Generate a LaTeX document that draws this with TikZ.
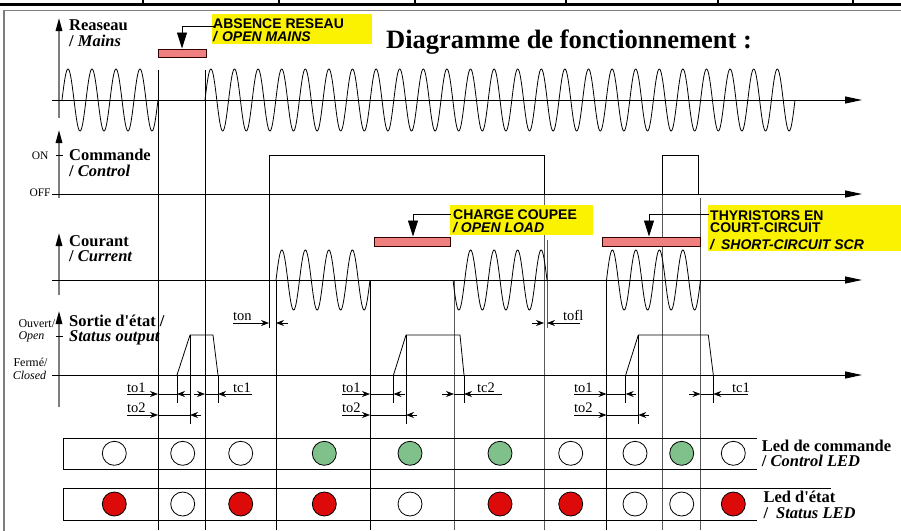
\documentclass[tikz,border=0pt]{standalone}
\usepackage{fontspec}
\setmainfont{Liberation Serif}
\newfontfamily\sansf{Liberation Sans}
\usetikzlibrary{arrows.meta}
\definecolor{hl}{RGB}{250,242,0}
\definecolor{pinkr}{RGB}{240,128,128}
\definecolor{ledg}{RGB}{128,192,138}
\definecolor{ledr}{RGB}{221,10,10}
\definecolor{axg}{RGB}{125,125,125}
\tikzset{
  haxis/.style={line width=1pt,-{Triangle[length=17pt,width=7pt]}},
  vaxis/.style={axg,line width=1.6pt,-{Triangle[length=13pt,width=6.5pt,color=black]}},
  thin/.style={line width=0.8pt},
  vline/.style={line width=0.8pt},
  gline/.style={line width=0.9pt,black!65},
  wave/.style={line width=0.8pt},
  tarr/.style={line width=0.7pt,-{Stealth[length=8pt,width=6pt]}},
  bigarr/.style={line width=0.7pt,-{Triangle[length=16pt,width=10pt]}},
  pinkbox/.style={fill=pinkr,draw=black!80!red,line width=0.8pt},
  hlbox/.style={fill=hl,draw=none},
  lbl/.style={anchor=base west,inner sep=0pt,font=\fontsize{16.5}{18}\selectfont\bfseries},
  lbli/.style={anchor=base west,inner sep=0pt,font=\fontsize{16.5}{18}\selectfont\bfseries\itshape},
  sml/.style={anchor=base west,inner sep=0pt,font=\fontsize{11.5}{12}\selectfont},
  smli/.style={anchor=base west,inner sep=0pt,font=\fontsize{12}{13}\selectfont\itshape},
  smlr/.style={anchor=base west,inner sep=0pt,font=\fontsize{12}{13}\selectfont},
  tim/.style={anchor=base west,inner sep=0pt,font=\fontsize{14.5}{15}\selectfont},
  hlt/.style={anchor=base west,inner sep=0pt,font=\sansf\fontsize{14}{14}\selectfont\bfseries},
  hlti/.style={anchor=base west,inner sep=0pt,font=\sansf\fontsize{14}{14}\selectfont\bfseries\itshape},
  led/.style={draw=black,line width=0.8pt},
}
\begin{document}
\begin{tikzpicture}[x=1pt,y=-1pt]
\useasboundingbox (0,0) rectangle (901,530);
% top strip
\draw[line width=2.5pt] (0,4.5) -- (901,4.5);
\foreach \xx in {142.7,278.7,415,566,717.7,853.3}
  \draw[line width=2pt] (\xx,0) -- (\xx,4.5);
% frame
\draw[axg,line width=1.8pt] (4,531) -- (4,10.5) -- (902,10.5);

% title
\node[anchor=base west,inner sep=0pt,font=\fontsize{26.5}{28}\selectfont\bfseries] (title) at (386,48) {Diagramme de fonctionnement :};

% ---------- vertical time lines ----------
\draw[vline] (158,70) -- (158,530);
\draw[vline] (205,70) -- (205,530);
\draw[vline] (269,194) -- (269,328);
\draw[vline] (276,280) -- (276,530);
\draw[vline] (370,280) -- (370,530);
\draw[gline] (454,280) -- (454,530);
\draw[gline] (544,194) -- (544,530);
\draw[gline] (547,240) -- (547,328);
\draw[vline] (606.5,280) -- (606.5,530);
\draw[gline] (662,194) -- (662,530);
\draw[gline] (700.5,198) -- (700.5,530);

% ---------- Mains ----------
\draw[vaxis] (59,118) -- (59,18);
\node[lbl] (mainsA) at (69,30.5) {Reaseau};
\node[lbli] (mainsB) at (69,46) {\upshape/ \itshape Mains};
\draw[haxis] (52,100) -- (862,100);
\draw[wave] plot[domain=62:158,samples=200] (\x,{100-31*sin(15*(\x-62))});
\draw[wave] plot[domain=205:795,samples=1200] (\x,{100-31*sin(15.254*(\x-205))});

% ---------- Control ----------
\draw[vaxis] (59,198) -- (59,130);
\draw[thin] (56,155) -- (63,155);
\node[sml] (on) at (31.7,159) {ON};
\node[sml] (off) at (29.3,196) {OFF};
\node[lbl] (cmdA) at (69,160.7) {Commande};
\node[lbli] (cmdB) at (69,176.7) {\upshape/ \itshape Control};
\draw[haxis] (52,194) -- (862,194);
\draw[thin] (269,194) -- (269,155) -- (544,155) -- (544,194);
\draw[thin] (662,194) -- (662,155) -- (698.3,155) -- (698.3,194);

% ---------- Current ----------
\draw[vaxis] (59,295) -- (59,233);
\node[lbl] (curA) at (69,246.7) {Courant};
\node[lbli] (curB) at (69,261.7) {\upshape/ \itshape Current};
\draw[haxis] (52,280) -- (862,280);
\draw[wave] plot[domain=276:370,samples=200] (\x,{280-30*sin(15.319*(\x-276))});
\draw[wave] plot[domain=453:547,samples=200] (\x,{280+30*sin(15.319*(\x-453))});
\draw[wave] plot[domain=606.5:700.5,samples=200] (\x,{280-30*sin(15.319*(\x-606.5))});

% ---------- annotations ----------
\fill[hlbox] (212,14) rectangle (372,44);
\draw[pinkbox] (158,49) rectangle (206,57);
\coordinate (aA) at (214,26);
\draw[bigarr] (aA) -- (182,26) -- (182,48.5);
\node[hlt] (absA) at (213,28) {ABSENCE RESEAU};
\node[hlti] (absB) at (213,41) {/\hspace{5pt}OPEN MAINS};

\fill[hlbox] (450,205) rectangle (593,235);
\draw[pinkbox] (374,237.3) rectangle (450,246);
\coordinate (aB) at (451,214);
\draw[bigarr] (aB) -- (413,214) -- (413,236.5);
\node[hlt] (olA) at (453,219) {CHARGE COUPEE};
\node[hlti] (olB) at (453,232.3) {/ OPEN LOAD};

\fill[hlbox] (708,205) rectangle (901,251);
\draw[pinkbox] (602,237.3) rectangle (700.5,246);
\coordinate (aC) at (709,214);
\draw[bigarr] (aC) -- (649,214) -- (649,236.5);
\node[hlt] (scA) at (710,220) {THYRISTORS EN};
\node[hlt] (scB) at (710,232.7) {COURT-CIRCUIT};
\node[hlti] (scC) at (710,249.3) {/\hspace{7pt}SHORT-CIRCUIT SCR};

% ---------- ton / tofl ----------
\draw[tarr] (233,323) -- (269,323);
\node[tim] (ton) at (233,320.5) {ton};
\draw[tarr] (288,323) -- (276,323);
\draw[tarr] (532,323) -- (544,323);
\draw[tarr] (580,323) -- (547,323);
\node[tim] (tofl) at (563,320.5) {tofl};

% ---------- Status output ----------
\draw[vaxis] (59,407) -- (59,311);
\draw[thin] (56,336.5) -- (63,336.5);
\node[smlr] (ouv) at (18.3,327.7) {Ouvert/};
\node[smli] (opn) at (18.3,339.3) {Open};
\node[smlr] (fer) at (13.3,366) {Fermé/};
\node[smli] (clo) at (12.7,379.3) {Closed};
\node[lbl] (stA) at (69,326.7) {Sortie d\textquotesingle état /};
\node[lbli] (stB) at (69,341.7) {Status output};
\draw[haxis] (52,375) -- (862,375);
\draw[thin] (177,375) -- (190,335) -- (213,335) -- (218,375);
\draw[thin] (393.5,375) -- (406,335) -- (460,335) -- (464,375);
\draw[thin] (625.7,375) -- (638.3,335) -- (708.3,335) -- (713.3,375);
% bars
\foreach \xx in {177,218,393.5,464,625.7,713.3} \draw[thin] (\xx,375) -- (\xx,403);
\foreach \xx in {190,406,638.3} \draw[thin] (\xx,335) -- (\xx,424);

% timing group 1
\draw[tarr] (127,394) -- (158,394);
\node[tim] (g1a) at (127,392.5) {to1};
\draw[thin] (158,394) -- (177,394);
\draw[tarr] (190,394) -- (177,394);
\draw[tarr] (194,394) -- (205,394);
\draw[thin] (205,394) -- (218,394);
\draw[tarr] (252,394) -- (218,394);
\node[tim] (g1b) at (233,392.5) {tc1};
\draw[tarr] (127,415) -- (158,415);
\node[tim] (g1c) at (127,412.5) {to2};
\draw[thin] (158,415) -- (190,415);
\draw[tarr] (201,415) -- (190,415);
% timing group 2
\draw[tarr] (342,394) -- (370,394);
\node[tim] (g2a) at (342,392.5) {to1};
\draw[thin] (370,394) -- (393.5,394);
\draw[tarr] (405,394) -- (393.5,394);
\draw[tarr] (442,394) -- (454,394);
\draw[thin] (454,394) -- (464,394);
\draw[tarr] (502,394) -- (464,394);
\node[tim] (g2b) at (477,392.5) {tc2};
\draw[tarr] (342,415) -- (370,415);
\node[tim] (g2c) at (342,412.5) {to2};
\draw[thin] (370,415) -- (406,415);
\draw[tarr] (417,415) -- (406,415);
% timing group 3
\draw[tarr] (574,394) -- (606.5,394);
\node[tim] (g3a) at (574,392.5) {to1};
\draw[thin] (606.5,394) -- (625.7,394);
\draw[tarr] (636,394) -- (625.7,394);
\draw[tarr] (689,394) -- (700.5,394);
\draw[thin] (700.5,394) -- (713.3,394);
\draw[tarr] (748,394) -- (713.3,394);
\node[tim] (g3b) at (732,392.5) {tc1};
\draw[tarr] (574,415) -- (606.5,415);
\node[tim] (g3c) at (574,412.5) {to2};
\draw[thin] (606.5,415) -- (638.3,415);
\draw[tarr] (649,415) -- (638.3,415);

% ---------- LED rows ----------
\draw[thin] (757,438.3) -- (63,438.3) -- (63,469.3) -- (757,469.3);
\draw[thin] (831,488.3) -- (63,488.3) -- (63,520.7) -- (757,520.7);
\foreach \xx/\c [count=\i] in {114.3/white,182.7/white,240.7/white,324.3/ledg,410/ledg,500/ledg,570.7/white,635/white,681.7/ledg,733.3/white}
  \node[led,circle,fill=\c,minimum size=24pt,inner sep=0pt] (c\i) at (\xx,453.3) {};
\foreach \xx/\c [count=\i] in {114.3/ledr,182.7/white,240.7/ledr,324.3/ledr,410/white,500/ledr,570.7/ledr,635/white,681.7/white,733.3/ledr}
  \node[led,circle,fill=\c,minimum size=24pt,inner sep=0pt] (s\i) at (\xx,504) {};
\node[lbl] (ledA) at (761.7,451.7) {Led de commande};
\node[lbli] (ledB) at (761.7,466.7) {\upshape/ \itshape Control LED};
\node[lbl] (ledC) at (763.3,502.3) {Led d\textquotesingle état};
\node[lbli] (ledD) at (763.3,518.3) {\upshape/\hspace{4pt} \itshape Status LED};
\end{tikzpicture}
\end{document}
